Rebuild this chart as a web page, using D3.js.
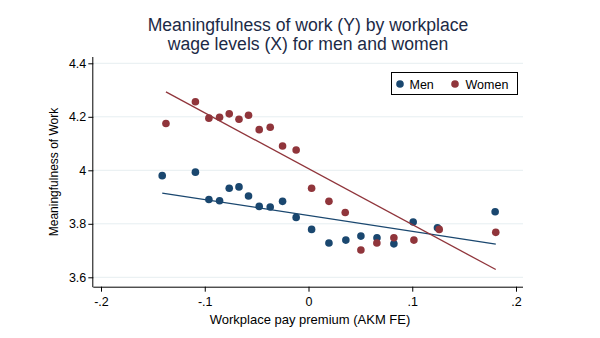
<!DOCTYPE html>
<html>
<head>
<meta charset="utf-8">
<script src="https://cdn.jsdelivr.net/npm/d3@7"></script>
<style>
  html, body { margin: 0; padding: 0; background: #ffffff; }
  svg { display: block; }
  text { font-family: "Liberation Sans", Arial, sans-serif; }
</style>
</head>
<body>
<svg id="chart" width="600" height="338"></svg>
<script>
// ---- data ----
const menX = [-0.141, -0.109, -0.096, -0.0857, -0.0764, -0.067, -0.0578, -0.0475, -0.0369, -0.025, -0.0119, 0.003, 0.0197, 0.036, 0.0505, 0.066, 0.0823, 0.1009, 0.1243, 0.1799];
const menY = [3.980, 3.993, 3.891, 3.886, 3.933, 3.938, 3.904, 3.865, 3.863, 3.884, 3.824, 3.779, 3.728, 3.739, 3.754, 3.748, 3.725, 3.807, 3.785, 3.845];
const womenX = [-0.1374, -0.109, -0.096, -0.0857, -0.0764, -0.067, -0.0578, -0.0475, -0.0369, -0.025, -0.0119, 0.003, 0.0197, 0.0354, 0.0505, 0.0659, 0.0823, 0.1016, 0.126, 0.1805];
const womenY = [4.175, 4.256, 4.195, 4.198, 4.211, 4.191, 4.206, 4.152, 4.161, 4.091, 4.076, 3.933, 3.884, 3.842, 3.702, 3.728, 3.748, 3.739, 3.779, 3.768];
const menFitX = [-0.141, 0.1805];
const menFitY = [3.915, 3.724];
const womenFitX = [-0.1374, 0.1805];
const womenFitY = [4.293, 3.629];
const xTicks = [-0.2, -0.1, 0, 0.1, 0.2];
const xTickLabels = ["-.2", "-.1", "0", ".1", ".2"];
const yTicks = [3.6, 3.8, 4.0, 4.2, 4.4];
const yTickLabels = ["3.6", "3.8", "4", "4.2", "4.4"];
const seriesNames = ["Men", "Women"];
const titleLines = ["Meaningfulness of work (Y) by workplace", "wage levels (X) for men and women"];
const xTitle = "Workplace pay premium (AKM FE)";
const yTitle = "Meaningfulness of Work";

// ---- styling ----
const colors = { Men: "#1a476f", Women: "#90353b" };
const svg = d3.select("#chart");

const x = d3.scaleLinear().domain([-0.2, 0.2]).range([101, 516]);
const y = d3.scaleLinear().domain([3.6, 4.4]).range([277.3, 63.3]);
const axisLeftX = 93.3, axisBottomY = 286.7, axisRightX = 523, axisTopY = 57;

// gridlines
svg.append("g").selectAll("line").data(yTicks).join("line")
  .attr("x1", axisLeftX).attr("x2", axisRightX)
  .attr("y1", d => y(d)).attr("y2", d => y(d))
  .attr("stroke", "#e6eef1").attr("stroke-width", 1);

// x axis
const gx = svg.append("g").attr("transform", `translate(0,${axisBottomY})`)
  .call(d3.axisBottom(x).tickValues(xTicks).tickFormat((d, i) => xTickLabels[i]).tickSize(5).tickSizeOuter(0));
gx.select(".domain").remove();
gx.append("line").attr("x1", axisLeftX).attr("x2", axisRightX).attr("y1", 0.5).attr("y2", 0.5).attr("stroke", "#000");
gx.selectAll(".tick line").attr("stroke", "#000");
gx.selectAll(".tick text").attr("font-size", 12.5).attr("fill", "#000").attr("dy", "0.9em")
  .attr("font-family", "'Liberation Sans', Arial, sans-serif");

// y axis
const gy = svg.append("g").attr("transform", `translate(${axisLeftX},0)`)
  .call(d3.axisLeft(y).tickValues(yTicks).tickFormat((d, i) => yTickLabels[i]).tickSize(5).tickSizeOuter(0));
gy.select(".domain").remove();
gy.append("line").attr("x1", -0.5).attr("x2", -0.5).attr("y1", axisTopY).attr("y2", axisBottomY + 0.5).attr("stroke", "#000");
gy.selectAll(".tick line").attr("stroke", "#000");
gy.selectAll(".tick text").attr("font-size", 12.5).attr("fill", "#000").attr("x", -7)
  .attr("font-family", "'Liberation Sans', Arial, sans-serif");

// points
function pts(xs, ys) { return xs.map((v, i) => ({ x: v, y: ys[i] })); }
svg.append("g").selectAll("circle").data(pts(menX, menY)).join("circle")
  .attr("cx", d => x(d.x)).attr("cy", d => y(d.y)).attr("r", 3.8).attr("fill", colors.Men);
svg.append("g").selectAll("circle").data(pts(womenX, womenY)).join("circle")
  .attr("cx", d => x(d.x)).attr("cy", d => y(d.y)).attr("r", 3.8).attr("fill", colors.Women);

// fit lines
const line = d3.line().x(d => x(d.x)).y(d => y(d.y));
svg.append("path").datum(pts(menFitX, menFitY)).attr("d", line)
  .attr("fill", "none").attr("stroke", colors.Men).attr("stroke-width", 1.3);
svg.append("path").datum(pts(womenFitX, womenFitY)).attr("d", line)
  .attr("fill", "none").attr("stroke", colors.Women).attr("stroke-width", 1.3);

// title
svg.append("g").selectAll("text").data(titleLines).join("text")
  .attr("x", 308).attr("y", (d, i) => 31 + i * 19)
  .attr("text-anchor", "middle").attr("font-size", 17.6).attr("fill", "#1c2a46")
  .text(d => d);

// axis titles
svg.append("text").attr("x", 310).attr("y", 324).attr("text-anchor", "middle")
  .attr("font-size", 13).attr("fill", "#000").text(xTitle);
svg.append("text").attr("transform", "translate(57.5,172) rotate(-90)").attr("text-anchor", "middle")
  .attr("font-size", 12).attr("fill", "#000").text(yTitle);

// legend
const lg = svg.append("g");
lg.append("rect").attr("x", 391.5).attr("y", 72.5).attr("width", 126).attr("height", 22)
  .attr("fill", "#fff").attr("stroke", "#000").attr("stroke-width", 1);
const legendPos = [{ cx: 400, tx: 409.5 }, { cx: 455, tx: 465.5 }];
seriesNames.forEach((n, i) => {
  lg.append("circle").attr("cx", legendPos[i].cx).attr("cy", 84).attr("r", 3.8).attr("fill", colors[n]);
  lg.append("text").attr("x", legendPos[i].tx).attr("y", 88.5).attr("font-size", 12.5).attr("fill", "#000").text(n);
});
</script>
</body>
</html>
